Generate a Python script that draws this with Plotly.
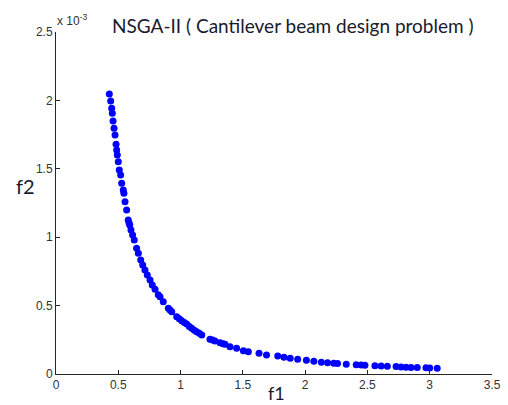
import plotly.graph_objects as go

# Pareto front points (f2 in units of 1e-3)
f1 = [0.428, 0.439, 0.447, 0.452, 0.458, 0.466, 0.474, 0.482, 0.487, 0.492,
      0.500, 0.508, 0.519, 0.527, 0.540, 0.545, 0.554, 0.567, 0.580, 0.586,
      0.592, 0.602, 0.615, 0.628, 0.647, 0.661, 0.680, 0.696, 0.714, 0.733,
      0.755, 0.773, 0.795, 0.821, 0.835, 0.861, 0.902, 0.915, 0.929, 0.969,
      0.990, 1.009, 1.030, 1.049, 1.070, 1.089, 1.110, 1.129, 1.150, 1.170,
      1.236, 1.256, 1.276, 1.317, 1.340, 1.357, 1.397, 1.450, 1.504, 1.544,
      1.630, 1.690, 1.780, 1.830, 1.880, 1.940, 2.010, 2.070, 2.130, 2.180,
      2.230, 2.260, 2.330, 2.410, 2.450, 2.480, 2.560, 2.610, 2.660, 2.730,
      2.770, 2.810, 2.850, 2.900, 2.970, 3.000, 3.060]
f2 = [2.047, 1.996, 1.942, 1.906, 1.849, 1.796, 1.747, 1.679, 1.637, 1.601,
      1.552, 1.491, 1.455, 1.394, 1.345, 1.321, 1.260, 1.199, 1.126, 1.105,
      1.089, 1.053, 1.016, 0.980, 0.919, 0.882, 0.833, 0.797, 0.760, 0.724,
      0.687, 0.651, 0.619, 0.580, 0.565, 0.529, 0.480, 0.468, 0.455, 0.419,
      0.404, 0.390, 0.376, 0.365, 0.348, 0.334, 0.320, 0.309, 0.297, 0.285,
      0.254, 0.248, 0.241, 0.229, 0.222, 0.217, 0.200, 0.188, 0.170, 0.163,
      0.151, 0.139, 0.132, 0.122, 0.115, 0.107, 0.100, 0.093, 0.085, 0.082,
      0.078, 0.076, 0.071, 0.068, 0.066, 0.064, 0.061, 0.059, 0.056, 0.054,
      0.052, 0.050, 0.048, 0.047, 0.046, 0.044, 0.042]

x_ticks = [0, 0.5, 1, 1.5, 2, 2.5, 3, 3.5]
x_labels = ["0", "0.5", "1", "1.5", "2", "2.5", "3", "3.5"]
y_ticks = [0, 0.5, 1, 1.5, 2, 2.5]
y_labels = ["0", "0.5", "1", "1.5", "2", "2.5"]

W, H = 508, 405
L, R, T, B = 56, 16, 32, 31
PW, PH = W - L - R, H - T - B

fig = go.Figure()
fig.add_trace(go.Scatter(
    x=f1, y=f2, mode="markers",
    marker=dict(color="#0000ff", size=7, line=dict(width=0)),
    showlegend=False,
))

axis_common = dict(
    showline=True, linecolor="#262626", linewidth=1,
    ticks="inside", ticklen=4, tickcolor="#262626",
    showgrid=False, zeroline=False, automargin=False,
    tickfont=dict(family="Arial, Liberation Sans", size=12, color="#333333"),
)
fig.update_xaxes(range=[0, 3.5], tickvals=x_ticks, ticktext=x_labels, **axis_common)
fig.update_yaxes(range=[0, 2.5], tickvals=y_ticks, ticktext=y_labels, **axis_common)


def ann(text, px, py, size, family, color, xanchor="center"):
    return dict(text=text, x=(px - L) / PW, y=(H - B - py) / PH,
                xref="paper", yref="paper", showarrow=False,
                xanchor=xanchor, yanchor="middle",
                font=dict(family=family, size=size, color=color))


title_font = "Lato, Open Sans"
fig.update_layout(
    width=W, height=H,
    margin=dict(l=L, r=R, t=T, b=B),
    paper_bgcolor="white", plot_bgcolor="white",
    annotations=[
        ann("NSGA-II ( Cantilever beam design problem )", 293, 26, 19, title_font, "#1a1a2e"),
        ann("f2", 25, 186, 20, title_font, "#1a1a2e"),
        ann("f1", 276, 393, 18, title_font, "#1a1a2e"),
        ann("x 10<sup>-3</sup>", 55, 20, 12, "Arial, Liberation Sans", "#333333", xanchor="left"),
    ],
)

fig.write_html("out.html")
